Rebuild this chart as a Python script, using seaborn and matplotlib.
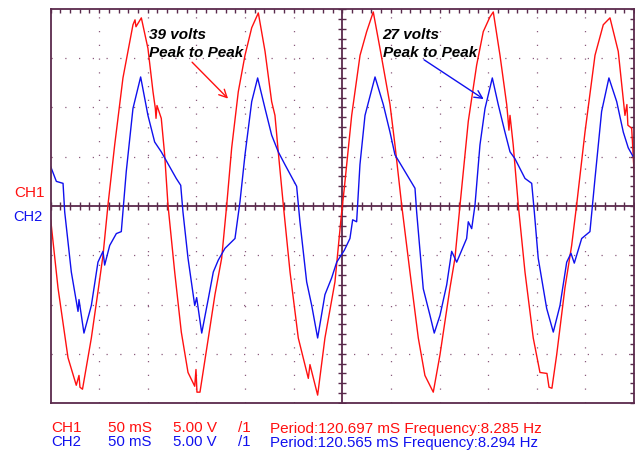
import numpy as np
import pandas as pd
import matplotlib
matplotlib.use("Agg")
import matplotlib.pyplot as plt
import seaborn as sns

# ---- data (time in ms, amplitude in volts) ----
ch1_t = [0.2, 7.7, 18.0, 26.5, 29.3, 30.3, 32.9, 42.0, 48.8, 54.0, 59.1, 66.0, 74.5,
         84.8, 86.9, 87.9, 93.4, 100.2, 105.4, 107.8, 108.5, 109.5, 113.9, 117.4,
         120.8, 127.7, 134.5, 141.4, 148.3, 149.6, 150.6, 153.7, 162.3, 169.1,
         176.0, 181.2, 186.3, 193.1, 200.0, 206.9, 213.7, 220.6, 227.4, 230.8,
         234.2, 239.4, 246.3, 254.8, 265.1, 266.8, 274.7, 282.2, 292.5, 299.4,
         302.1, 309.7, 318.3, 325.1, 331.9, 338.8, 349.1, 354.2, 361.1, 369.6,
         378.2, 385.0, 393.6, 400.5, 410.8, 415.9, 421.1, 429.6, 438.2, 445.0,
         451.9, 455.3, 462.2, 469.1, 470.4, 471.4, 472.5, 475.8, 481.0, 487.9,
         496.4, 503.3, 510.5, 512.6, 515.6, 520.5, 529.0, 535.9, 541.0, 549.6,
         559.9, 568.4, 575.3, 583.8, 590.7, 592.7, 593.7, 597.6, 600.3]
ch1_v = [-1.4, -8.3, -15.4, -18.2, -17.2, -18.4, -18.6, -13.4, -8.7, -5.0, 0.1, 6.2, 13.0,
         18.4, 18.9, 18.2, 19.1, 16.0, 11.6, 9.9, 8.9, 10.2, 8.9, 5.2,
         0.1, -6.7, -12.8, -16.9, -18.3, -16.6, -18.9, -18.9, -13.4, -9.0,
         -5.3, 0.1, 5.9, 11.6, 15.3, 18.1, 19.6, 15.7, 10.6, 9.2,
         5.5, 0.1, -6.7, -13.4, -17.5, -16.1, -19.2, -13.4, -7.7, -0.6,
         1.8, 9.2, 15.3, 17.7, 19.7, 16.0, 10.3, 6.2, 0.1, -6.7,
         -13.4, -17.2, -18.9, -15.1, -8.3, -5.3, 0.1, 8.6, 14.3, 17.7,
         19.2, 19.7, 15.3, 10.3, 8.9, 7.7, 9.2, 6.2, 0.1, -6.7,
         -13.4, -16.9, -17.0, -18.4, -18.5, -15.1, -8.3, -4.0, 0.1, 7.5,
         15.3, 18.4, 19.1, 15.7, 9.2, 10.3, 8.2, 7.9, 3.1]

ch2_t = [0.2, 6.0, 12.9, 14.6, 21.4, 28.3, 29.3, 34.4, 42.0, 48.8, 54.0, 55.7, 60.9,
         67.7, 72.8, 77.9, 84.8, 92.7, 100.2, 107.1, 113.9, 129.3, 133.9, 136.2,
         141.4, 148.3, 150.3, 155.5, 162.3, 167.4, 172.5, 179.4, 189.7, 194.8,
         200.0, 206.9, 213.0, 220.6, 227.4, 234.2, 241.1, 253.1, 256.5, 263.4,
         268.6, 274.7, 282.2, 289.1, 294.3, 302.1, 307.9, 310.7, 314.8, 318.2,
         323.4, 333.7, 342.2, 349.1, 354.2, 362.7, 374.8, 376.5, 383.3, 390.2,
         394.6, 400.5, 407.4, 412.5, 417.7, 427.9, 429.6, 433.1, 436.5, 441.6,
         446.8, 454.3, 460.4, 467.3, 472.5, 477.6, 487.9, 494.8, 497.5, 501.5,
         510.2, 517.0, 523.9, 530.8, 535.2, 538.6, 546.2, 554.7, 559.9, 566.7,
         574.2, 582.2, 589.0, 594.1, 599.2]
ch2_v = [4.0, 2.5, 2.3, -0.6, -6.7, -10.7, -9.5, -12.9, -10.1, -5.7, -4.6, -6.0, -4.0,
         -2.8, -2.6, 3.5, 9.9, 13.1, 9.2, 6.5, 5.5, 2.8, 2.1, -0.6,
         -5.3, -10.1, -9.3, -12.9, -9.4, -6.7, -5.5, -4.3, -3.3, 0.4,
         5.2, 10.6, 13.0, 9.9, 7.2, 5.5, 4.2, 2.0, -1.6, -7.7,
         -10.1, -13.4, -9.0, -7.3, -5.7, -4.5, -3.3, -1.4, -1.6, 4.2,
         9.2, 13.1, 10.3, 7.5, 5.2, 3.8, 1.8, -0.6, -8.4, -11.1,
         -12.9, -11.1, -8.0, -4.6, -5.7, -3.3, -1.6, -2.3, 0.1, 6.2,
         9.9, 13.0, 10.3, 7.5, 5.5, 4.8, 2.8, 2.3, -0.6, -5.3,
         -10.4, -12.8, -10.1, -5.7, -4.8, -5.8, -3.3, -2.6, 2.8, 9.6,
         13.0, 10.6, 7.5, 5.9, 5.0]

time_per_div = 50      # ms
volts_per_div = 5      # V
n_xdiv, n_ydiv = 12, 8

info_rows = [
    ("CH1", "50 mS", "5.00 V", "/1", "Period:120.697 mS Frequency:8.285 Hz"),
    ("CH2", "50 mS", "5.00 V", "/1", "Period:120.565 mS Frequency:8.294 Hz"),
]

RED = "#ff1010"
BLUE = "#1010ee"
FRAME = "#5a2a4c"
GRID = "#8a5a7c"

sns.set_style("white")
plt.rcParams["font.family"] = ["Liberation Sans", "DejaVu Sans"]

W, H = 635, 451
fig = plt.figure(figsize=(W / 100, H / 100), dpi=100)
ax = fig.add_axes([50.5 / W, 1 - 403 / H, (634 - 50.5) / W, (403 - 9) / H])

df1 = pd.DataFrame({"t": ch1_t, "v": ch1_v})
df2 = pd.DataFrame({"t": ch2_t, "v": ch2_v})
sns.lineplot(data=df1, x="t", y="v", ax=ax, color=RED, lw=1.0, estimator=None, sort=False)
sns.lineplot(data=df2, x="t", y="v", ax=ax, color=BLUE, lw=1.0, estimator=None, sort=False)

xmax = n_xdiv * time_per_div
ymax = n_ydiv / 2 * volts_per_div
ax.set_xlim(0, xmax)
ax.set_ylim(-ymax, ymax)
ax.set_xlabel("")
ax.set_ylabel("")

xmaj = np.arange(0, xmax + 1, time_per_div)
ymaj = np.arange(-ymax, ymax + 0.1, volts_per_div)
xmin_t = np.arange(0, xmax + 1, time_per_div / 5)
ymin_t = np.arange(-ymax, ymax + 0.01, volts_per_div / 5)

ax.set_xticks(xmaj)
ax.set_yticks(ymaj)
ax.set_xticks(xmin_t, minor=True)
ax.set_yticks(ymin_t, minor=True)
ax.tick_params(which="both", direction="in", length=3, width=1, color=FRAME,
               top=True, right=True, labelbottom=False, labelleft=False)

for xv in xmaj[1:-1]:
    if xv != xmax / 2:
        ax.axvline(xv, color=GRID, lw=0.9, ls=(0, (1, 10)), zorder=0)
for yv in ymaj[1:-1]:
    if yv != 0:
        ax.axhline(yv, color=GRID, lw=0.9, ls=(0, (1, 10)), zorder=0)

ax.axhline(0, color=FRAME, lw=1.3, zorder=1)
ax.axvline(xmax / 2, color=FRAME, lw=1.3, zorder=1)
ax.plot(xmin_t, np.zeros_like(xmin_t), ls="none", marker="|", ms=6, mew=1, color=FRAME, zorder=1)
ax.plot(np.full_like(ymin_t, xmax / 2), ymin_t, ls="none", marker="_", ms=6, mew=1, color=FRAME, zorder=1)

for s in ax.spines.values():
    s.set_color(FRAME)
    s.set_linewidth(1.3)

# annotations
ann_font = dict(fontsize=11, fontweight="bold", fontstyle="italic", color="black")
ax.text(101.5, 17.0, "39 volts", **ann_font)
ax.text(101.5, 15.1, "Peak to Peak", **ann_font)
ax.annotate("", xy=(184.6, 10.7), xytext=(143.6, 14.8),
            arrowprops=dict(arrowstyle="->", color=RED, lw=1.0, mutation_scale=14))
ax.text(341.5, 17.0, "27 volts", **ann_font)
ax.text(341.5, 15.1, "Peak to Peak", **ann_font)
ax.annotate("", xy=(447.8, 10.7), xytext=(381.7, 15.0),
            arrowprops=dict(arrowstyle="->", color=BLUE, lw=1.0, mutation_scale=14))

def px(x, y):
    return x / W, 1 - y / H

fig.text(*px(14, 197), "CH1", color=RED, fontsize=11)
fig.text(*px(13, 221), "CH2", color=BLUE, fontsize=10.5)

col_x = [51, 107.5, 173, 238, 270]
for vals, col, yb, fs in zip(info_rows, [RED, BLUE], [432.5, 446.5], [11, 10.8]):
    for xx, txt in zip(col_x, vals):
        fig.text(*px(xx, yb), txt, color=col, fontsize=fs)

fig.savefig("out.png", dpi=100, facecolor="white")
